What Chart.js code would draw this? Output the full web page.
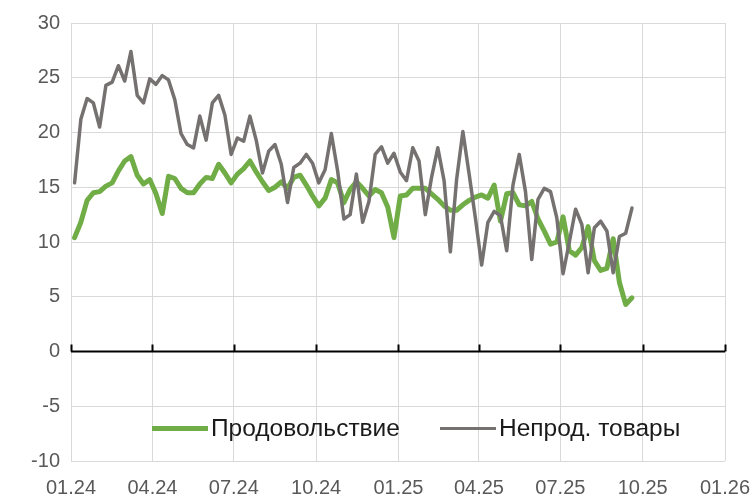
<!DOCTYPE html>
<html>
<head>
<meta charset="utf-8">
<script src="https://cdn.jsdelivr.net/npm/chart.js@4"></script>
<style>
  body { margin: 0; background: #fff; }
  #wrap { position: relative; width: 753px; height: 500px; }
  .legend { position: absolute; top: 414px; left: 152px; display: flex; align-items: center;
            font-family: "Liberation Sans", Arial, sans-serif; font-size: 24.5px; color: #1a1a1a; white-space: nowrap; }
  .legend .sw { display: inline-block; width: 56px; margin-right: 3px; }
</style>
</head>
<body>
<div id="wrap">
  <canvas id="chart" width="753" height="500"></canvas>
  <div class="legend">
    <span class="sw" style="height:5px;background:#70ad47;"></span><span style="margin-right:40px;">Продовольствие</span>
    <span class="sw" style="height:3px;background:#767171;"></span><span>Непрод. товары</span>
  </div>
</div>
<script>
// weekly observations, first week ending 05.01.2024
const firstWeek = '2024-01-05';
const food = [
  10.4, 11.8, 13.8, 14.5, 14.6, 15.1, 15.4, 16.5, 17.4, 17.8,
  16.1, 15.3, 15.7, 14.4, 12.6, 16.0, 15.8, 14.9, 14.5, 14.5,
  15.3, 15.9, 15.8, 17.1, 16.3, 15.4, 16.2, 16.7, 17.4, 16.4,
  15.5, 14.7, 15.0, 15.5, 14.9, 15.9, 16.1, 15.2, 14.2, 13.3,
  14.0, 15.7, 15.4, 13.6, 14.8, 15.5, 14.9, 14.2, 14.8, 14.5,
  13.2, 10.4, 14.2, 14.3, 14.9, 14.9, 14.9, 14.4, 13.9, 13.3,
  12.9, 12.9, 13.4, 13.8, 14.1, 14.3, 14.0, 15.2, 11.9, 14.4,
  14.5, 13.4, 13.3, 13.7, 12.1, 11.0, 9.8, 10.0, 12.3, 9.2,
  8.8, 9.5, 11.4, 8.3, 7.4, 7.6, 10.3, 6.3, 4.3, 4.9
];
const nonFood = [
  15.4, 21.2, 23.1, 22.7, 20.5, 24.3, 24.6, 26.1, 24.7, 27.4,
  23.4, 22.7, 24.9, 24.4, 25.2, 24.8, 23.0, 19.9, 18.9, 18.6,
  21.5, 19.3, 22.7, 23.4, 21.6, 18.0, 19.5, 19.2, 21.5, 19.3,
  16.3, 18.3, 18.9, 17.1, 13.6, 16.8, 17.2, 18.0, 17.2, 15.4,
  16.6, 19.9, 16.5, 12.1, 12.5, 16.2, 11.8, 13.7, 18.0, 18.7,
  17.2, 18.1, 16.4, 15.6, 18.6, 17.4, 12.5, 15.9, 18.6, 15.6,
  9.1, 15.7, 20.1, 16.2, 12.2, 7.9, 11.8, 12.8, 12.4, 9.2,
  15.2, 18.0, 14.6, 8.4, 13.9, 14.9, 14.6, 12.2, 7.1, 10.0,
  13.0, 11.6, 7.2, 11.3, 11.9, 11.0, 7.2, 10.5, 10.8, 13.1
];
const tickLabels = ['01.24', '04.24', '07.24', '10.24', '01.25', '04.25', '07.25', '10.25', '01.26'];

const DAY = 864e5;
const origin = Date.UTC(2024, 0, 1);
const dayOf = (t) => Math.round((t - origin) / DAY);
const tickDays = tickLabels.map(l => {
  const [m, y] = l.split('.').map(Number);
  return dayOf(Date.UTC(2000 + y, m - 1, 1));
});
const start = dayOf(Date.parse(firstWeek));
const toPoints = arr => arr.map((v, i) => ({ x: start + 7 * i, y: v }));

const font = { family: '"Liberation Sans", Arial, sans-serif', size: 20 };

const zeroLine = {
  id: 'zeroLine',
  beforeDatasetsDraw(chart) {
    const { ctx, chartArea, scales } = chart;
    const y0 = scales.y.getPixelForValue(0);
    ctx.save();
    ctx.strokeStyle = '#000';
    ctx.lineWidth = 2;
    ctx.beginPath();
    ctx.moveTo(chartArea.left, y0);
    ctx.lineTo(chartArea.right, y0);
    tickDays.forEach(d => {
      const x = Math.round(scales.x.getPixelForValue(d)) + 0.5;
      ctx.moveTo(x, y0);
      ctx.lineTo(x, y0 - 7);
    });
    ctx.stroke();
    ctx.restore();
  }
};

new Chart(document.getElementById('chart'), {
  type: 'line',
  data: {
    datasets: [
      { label: 'Непрод. товары', data: toPoints(nonFood), borderColor: '#767171', borderWidth: 3.5, order: 0 },
      { label: 'Продовольствие', data: toPoints(food), borderColor: '#70ad47', borderWidth: 5, order: 1 }
    ]
  },
  options: {
    responsive: false,
    animation: false,
    layout: { padding: { top: 22, right: 28, left: 0, bottom: 0 } },
    elements: { point: { radius: 0 }, line: { tension: 0, borderJoinStyle: 'round', borderCapStyle: 'round' } },
    plugins: { legend: { display: false }, tooltip: { enabled: false } },
    scales: {
      x: {
        type: 'linear', min: tickDays[0], max: tickDays[tickDays.length - 1],
        afterBuildTicks: s => { s.ticks = tickDays.map(v => ({ value: v })); },
        afterFit: s => { s.height = 39; s.paddingLeft = 0; s.paddingRight = 0; },
        ticks: { callback: (v, i) => tickLabels[i], autoSkip: false, maxRotation: 0, padding: 15, color: '#595959', font },
        grid: { color: '#d9d9d9', drawTicks: false },
        border: { display: false }
      },
      y: {
        min: -10, max: 30,
        afterFit: s => { s.width = 71; },
        ticks: { stepSize: 5, padding: 11, color: '#595959', font },
        grid: { color: ctx => ctx.tick && ctx.tick.value === 0 ? 'rgba(0,0,0,0)' : '#d9d9d9', drawTicks: false },
        border: { display: false }
      }
    }
  },
  plugins: [zeroLine]
});
</script>
</body>
</html>
